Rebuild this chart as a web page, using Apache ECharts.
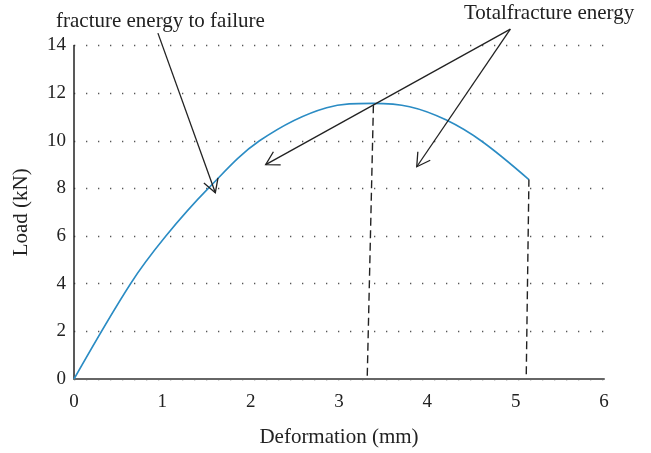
<!DOCTYPE html>
<html>
<head>
<meta charset="utf-8">
<script src="https://cdn.jsdelivr.net/npm/echarts@6/dist/echarts.min.js"></script>
<style>
html,body{margin:0;padding:0;background:#fff;}
#chart{width:651px;height:453px;}
</style>
</head>
<body>
<div id="chart"></div>
<script>
// Load–deformation curve
const deformation = [0, 0.64, 1.04, 1.52, 2.10, 2.86, 3.38, 3.80, 4.21, 4.62, 5.15];
const load        = [0, 4.0,  6.0,  8.0,  10.0, 11.39, 11.57, 11.43, 10.88, 9.97, 8.37];

// Dashed drop lines [x, y]
const dropPeak = [[3.32, 0.14], [3.39, 11.57]];
const dropEnd  = [[5.12, 0.2], [5.15, 8.37]];

// Annotation arrows: [xStart, yStart, xTip, yTip] in data units
const arrows = [
  [0.95, 14.52, 1.60, 7.82],
  [4.94, 14.69, 2.17, 9.00],
  [4.94, 14.69, 3.88, 8.91]
];

const xTicks = [0, 1, 2, 3, 4, 5, 6];
const yTicks = [0, 2, 4, 6, 8, 10, 12, 14];
const labelFailure = 'fracture energy to failure';
const labelTotal = 'Totalfracture energy';

const FONT = '"Liberation Serif", "DejaVu Serif", serif';
const chart = echarts.init(document.getElementById('chart'), null, {renderer: 'canvas'});

const curve = deformation.map((x, i) => [x, load[i]]);

chart.setOption({
  animation: false,
  backgroundColor: '#fff',
  grid: {left: 74, right: 47, top: 45.5, bottom: 73, containLabel: false},
  xAxis: {
    type: 'value', min: xTicks[0], max: xTicks[xTicks.length - 1], interval: 1,
    name: 'Deformation (mm)', nameLocation: 'middle', nameGap: 48,
    nameTextStyle: {fontFamily: FONT, fontSize: 21, color: '#222'},
    axisLine: {show: true, lineStyle: {color: '#666', width: 2}},
    axisTick: {show: false},
    axisLabel: {fontFamily: FONT, fontSize: 19, color: '#222', margin: 14},
    splitLine: {show: false}
  },
  yAxis: {
    type: 'value', min: yTicks[0], max: yTicks[yTicks.length - 1], interval: 2,
    name: 'Load (kN)', nameLocation: 'middle', nameGap: 42,
    nameTextStyle: {fontFamily: FONT, fontSize: 21, color: '#222'},
    axisLine: {show: true, lineStyle: {color: '#222', width: 1.5}},
    axisTick: {show: false},
    axisLabel: {fontFamily: FONT, fontSize: 19, color: '#222', margin: 8},
    splitLine: {show: true, lineStyle: {color: '#555', width: 1.3, type: [1.3, 10.7]}}
  },
  graphic: [
    {type: 'text', left: 56, top: 11, style: {text: labelFailure, font: '21px ' + FONT, fill: '#222'}},
    {type: 'text', left: 464, top: 3, style: {text: labelTotal, font: '21px ' + FONT, fill: '#222'}}
  ],
  series: [
    {
      type: 'line', data: curve, smooth: 0.35, showSymbol: false, symbol: 'none',
      lineStyle: {color: '#2b8cc4', width: 1.6}, z: 3
    },
    {
      type: 'line', data: dropPeak, showSymbol: false, symbol: 'none',
      lineStyle: {color: '#222', width: 1.4, type: [8, 4.5]}, z: 4
    },
    {
      type: 'line', data: dropEnd, showSymbol: false, symbol: 'none',
      lineStyle: {color: '#222', width: 1.4, type: [8, 4.5]}, z: 4
    },
    {
      type: 'custom', data: arrows, clip: false, z: 5, silent: true,
      renderItem: function (params, api) {
        const p0 = api.coord([api.value(0), api.value(1)]);
        const p1 = api.coord([api.value(2), api.value(3)]);
        const ang = Math.atan2(p0[1] - p1[1], p0[0] - p1[0]);
        const L = 15, h = Math.PI / 6;
        const a1 = [p1[0] + L * Math.cos(ang + h), p1[1] + L * Math.sin(ang + h)];
        const a2 = [p1[0] + L * Math.cos(ang - h), p1[1] + L * Math.sin(ang - h)];
        const st = {stroke: '#222', lineWidth: 1.3, fill: null};
        return {
          type: 'group',
          children: [
            {type: 'polyline', shape: {points: [p0, p1]}, style: st},
            {type: 'polyline', shape: {points: [a1, p1, a2]}, style: st}
          ]
        };
      },
      encode: {x: [0, 2], y: [1, 3]}
    }
  ]
});
</script>
</body>
</html>
